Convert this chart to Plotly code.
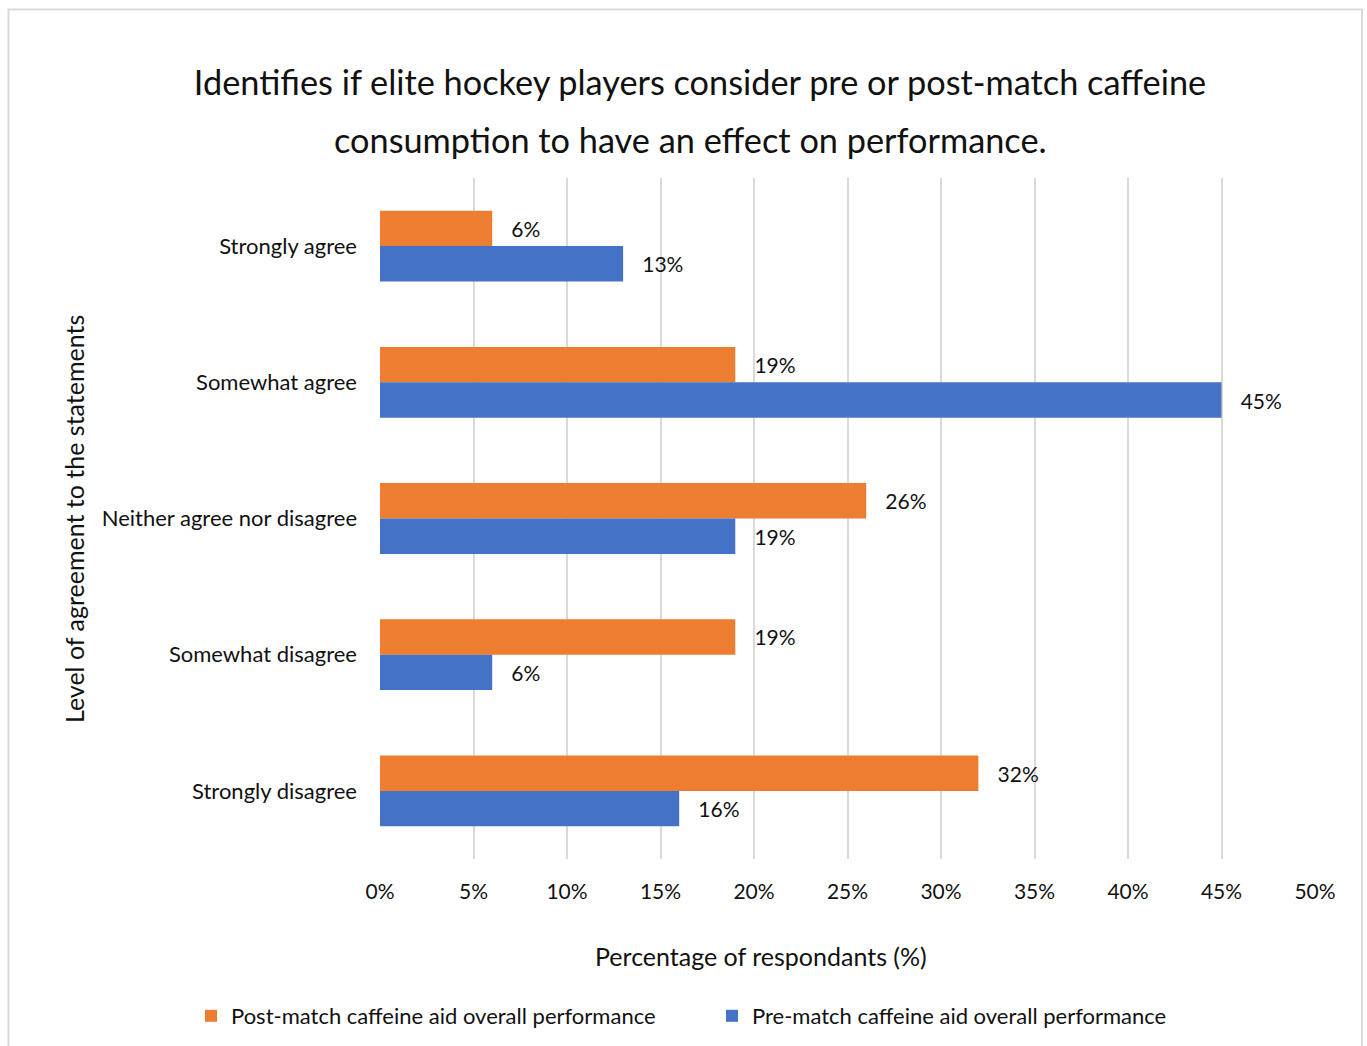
import plotly.graph_objects as go

categories = ["Strongly agree", "Somewhat agree", "Neither agree nor disagree",
              "Somewhat disagree", "Strongly disagree"]
post_match = [6, 19, 26, 19, 32]
pre_match = [13, 45, 19, 6, 16]
series_names = ["Post-match caffeine aid overall performance",
                "Pre-match caffeine aid overall performance"]
tick_vals = [0, 5, 10, 15, 20, 25, 30, 35, 40, 45, 50]
tick_text = [f"{v}%" for v in tick_vals]
title_lines = ["Identifies if elite hockey players consider pre or post-match caffeine",
               "consumption to have an effect on performance."]
x_title = "Percentage of respondants (%)"
y_title = "Level of agreement to the statements"

FONT = "Lato, 'Open Sans', sans-serif"
TXT = "#111111"

fig = go.Figure()
fig.add_trace(go.Bar(
    y=categories, x=post_match, orientation="h", name=series_names[0],
    marker=dict(color="#ED7D31", line=dict(width=0)),
    text=[f"{v}%" for v in post_match], texttemplate="   %{text}",
    textposition="outside", textfont=dict(size=21, color=TXT, family=FONT),
    cliponaxis=False, legend="legend",
))
fig.add_trace(go.Bar(
    y=categories, x=pre_match, orientation="h", name=series_names[1],
    marker=dict(color="#4472C4", line=dict(width=0)),
    text=[f"{v}%" for v in pre_match], texttemplate="   %{text}",
    textposition="outside", textfont=dict(size=21, color=TXT, family=FONT),
    cliponaxis=False, legend="legend2",
))

L, R, T, B = 380, 1315, 178, 859
W, H = 1367, 1046
pw, ph = R - L, B - T

def px_x(x):
    return (x - L) / pw

def px_y(y):
    return (B - y) / ph

legend_common = dict(
    orientation="h", xanchor="left", xref="container",
    y=px_y(1016), yanchor="middle", yref="paper",
    font=dict(size=22, family=FONT, color=TXT),
    itemwidth=30,
)

fig.update_layout(
    width=W, height=H,
    margin=dict(l=L, r=W - R, t=T, b=H - B, autoexpand=False),
    paper_bgcolor="white", plot_bgcolor="white",
    font=dict(family=FONT, color=TXT, size=22),
    barmode="group", bargap=0.48, bargroupgap=0,
    title=dict(
        text=title_lines[0],
        x=700 / W, xref="container", xanchor="center",
        y=1 - 83 / H, yref="container", yanchor="middle",
        font=dict(size=34.3, family=FONT, color=TXT),
    ),
    showlegend=True,
    legend=dict(x=191 / W, **legend_common),
    legend2=dict(x=712 / W, **legend_common),
    xaxis=dict(
        range=[0, 50], tickvals=tick_vals, ticktext=tick_text,
        showgrid=True, gridcolor="#d9d9d9", gridwidth=2,
        zeroline=False, showline=False,
        tickfont=dict(size=21, family=FONT, color=TXT),
        ticklabelstandoff=18,
        fixedrange=True,
    ),
    yaxis=dict(
        categoryorder="array", categoryarray=categories,
        autorange="reversed",
        showgrid=False, zeroline=False, showline=False,
        tickfont=dict(size=22, family=FONT, color=TXT),
        ticklabelstandoff=22,
        fixedrange=True,
    ),
    annotations=[
        dict(text=title_lines[1], xref="paper", yref="paper",
             x=px_x(690), y=px_y(139), xanchor="center", yanchor="middle",
             showarrow=False, font=dict(size=34.3, family=FONT, color=TXT)),
        dict(text=x_title, xref="paper", yref="paper",
             x=px_x(761), y=px_y(956), xanchor="center", yanchor="middle",
             showarrow=False, font=dict(size=25, family=FONT, color=TXT)),
        dict(text=y_title, xref="paper", yref="paper", textangle=-90,
             x=px_x(74), y=px_y(519), xanchor="center", yanchor="middle",
             showarrow=False, font=dict(size=25, family=FONT, color=TXT)),
    ],
    shapes=[
        dict(type="rect", xref="paper", yref="paper",
             x0=px_x(8.5), x1=px_x(1362), y0=px_y(1060), y1=px_y(9.5),
             line=dict(color="#d9d9d9", width=2), fillcolor="rgba(0,0,0,0)",
             layer="below"),
    ],
)

fig.write_html("out.html")
